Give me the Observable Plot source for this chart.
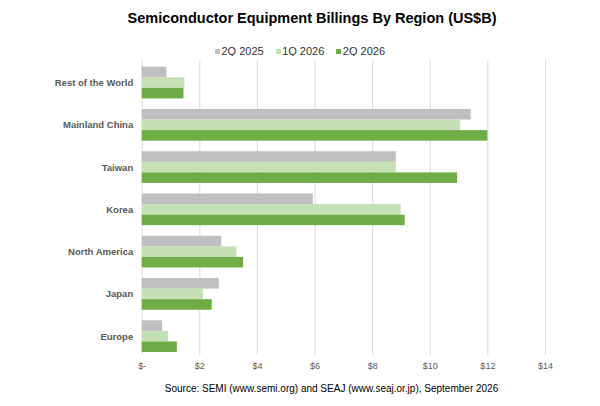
<!DOCTYPE html>
<html>
<head>
<meta charset="utf-8">
<script src="https://cdn.jsdelivr.net/npm/d3@7"></script>
<script src="https://cdn.jsdelivr.net/npm/@observablehq/plot@0.6"></script>
<style>
  html, body { margin: 0; padding: 0; background: #fff; }
  #wrap { position: relative; width: 600px; height: 406px; font-family: "Liberation Sans", Arial, sans-serif; overflow: hidden; }
  #title { position: absolute; left: 12px; width: 600px; top: 11px; text-align: center; font-size: 14.5px; line-height: 1; font-weight: bold; color: #000; }
  #legend { position: absolute; left: 0; width: 600px; top: 45px; display: flex; justify-content: center; align-items: center; font-size: 11px; line-height: 12px; color: #333; }
  .item { display: flex; align-items: center; margin: 0 6px; }
  .sw { width: 5px; height: 5px; margin-right: 1.5px; }
  #chart { position: absolute; left: 0; top: 56px; }
  #caption { position: absolute; left: 0; width: 600px; top: 384px; text-align: center; font-size: 10px; line-height: 1; padding-left: 63px; box-sizing: border-box; color: #000; }
</style>
</head>
<body>
<div id="wrap">
  <div id="title">Semiconductor Equipment Billings By Region (US$B)</div>
  <div id="legend"></div>
  <div id="chart"></div>
  <div id="caption">Source: SEMI (www.semi.org) and SEAJ (www.seaj.or.jp), September 2026</div>
</div>
<script>
// ---- data ----
const regions = ["Rest of the World", "Mainland China", "Taiwan", "Korea", "North America", "Japan", "Europe"];
const seriesNames = ["2Q 2025", "1Q 2026", "2Q 2026"];
const values2Q2025 = [0.86, 11.42, 8.82, 5.94, 2.76, 2.68, 0.71];
const values1Q2026 = [1.48, 11.06, 8.82, 8.99, 3.29, 2.13, 0.91];
const values2Q2026 = [1.45, 12.00, 10.95, 9.13, 3.52, 2.43, 1.22];
const seriesColors = ["#bfbfbf", "#c5e0b4", "#70ad47"];
const xTicks = [0, 2, 4, 6, 8, 10, 12, 14];
const xTickLabels = ["$-", "$2", "$4", "$6", "$8", "$10", "$12", "$14"];

// ---- table ----
const seriesValues = [values2Q2025, values1Q2026, values2Q2026];
const key = (r, s) => r + "|" + s;
const data = regions.flatMap((r, i) => seriesNames.map((s, j) => ({region: r, series: s, value: seriesValues[j][i], k: key(r, s)})));
const yDomain = regions.flatMap((r, i) => {
  const ks = seriesNames.map(s => key(r, s));
  return i < regions.length - 1 ? [...ks, key(r, "gap")] : ks;
});
const midKeys = regions.map(r => key(r, seriesNames[1]));
const labelOf = new Map(regions.map(r => [key(r, seriesNames[1]), r]));
const xLabelOf = new Map(xTicks.map((t, i) => [t, xTickLabels[i]]));

// ---- legend ----
const legend = document.getElementById("legend");
seriesNames.forEach((s, i) => {
  const it = document.createElement("div");
  it.className = "item";
  const sw = document.createElement("span");
  sw.className = "sw";
  sw.style.background = seriesColors[i];
  const tx = document.createElement("span");
  tx.textContent = s;
  it.appendChild(sw); it.appendChild(tx);
  legend.appendChild(it);
});

// ---- chart ----
const chart = Plot.plot({
  width: 600,
  height: 318,
  marginTop: 4,
  marginBottom: 19,
  marginLeft: 141.7,
  marginRight: 55,
  style: {fontFamily: "'Liberation Sans', Arial, sans-serif", color: "#595959", background: "#fff"},
  x: {domain: [0, 14], axis: null},
  y: {domain: yDomain, range: [10.7, 296], padding: 0, round: false, axis: null},
  color: {domain: seriesNames, range: seriesColors},
  marks: [
    Plot.gridX(xTicks, {stroke: "#d9d9d9", strokeOpacity: 1, strokeWidth: 1}),
    Plot.barX(data, {x: "value", y: "k", fill: "series"}),
    Plot.axisX(xTicks, {label: null, tickSize: 0, tickPadding: 7, fontSize: 9, tickFormat: d => xLabelOf.get(d), fill: "#595959"}),
    Plot.axisY(midKeys, {label: null, tickSize: 0, tickPadding: 9, fontSize: 9.5, fontWeight: "bold", tickFormat: d => labelOf.get(d), fill: "#595959"})
  ]
});
document.getElementById("chart").appendChild(chart);
</script>
</body>
</html>
